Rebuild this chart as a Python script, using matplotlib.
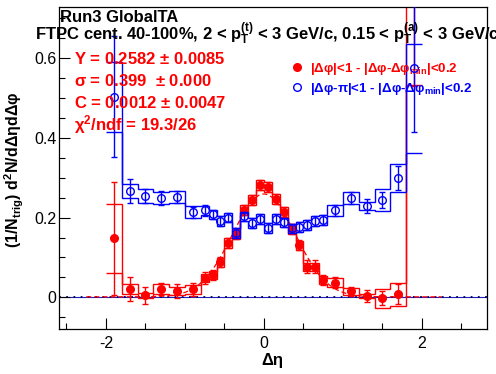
import numpy as np
import matplotlib
matplotlib.use("Agg")
import matplotlib.pyplot as plt
from matplotlib.lines import Line2D
from matplotlib.ticker import MultipleLocator

plt.rcParams["font.family"] = ["Liberation Sans", "DejaVu Sans"]
plt.rcParams["mathtext.fontset"] = "custom"
plt.rcParams["mathtext.rm"] = "Liberation Sans:bold"
plt.rcParams["mathtext.it"] = "Liberation Sans:bold"
plt.rcParams["mathtext.bf"] = "Liberation Sans:bold"
plt.rcParams["axes.unicode_minus"] = False

'''Data read off the reference'''
eta_edges = [-2.0, -1.8, -1.6, -1.4, -1.2, -1.0, -0.8, -0.7, -0.6, -0.5, -0.4,
             -0.3, -0.2, -0.1, 0.0, 0.1, 0.2, 0.3, 0.4, 0.5, 0.6, 0.7, 0.8,
             1.0, 1.2, 1.4, 1.6, 1.8, 2.0]

# near side |dphi|<1
near_y = [0.148, 0.021, 0.005, 0.021, 0.016, 0.020, 0.048, 0.056, 0.088, 0.136,
          0.159, 0.219, 0.244, 0.282, 0.277, 0.247, 0.214, 0.171, 0.131, 0.077,
          0.077, 0.043, 0.037, 0.015, 0.003, -0.002, 0.008, 0.85]
near_stat = [0.141, 0.031, 0.021, 0.016, 0.018, 0.016, 0.015, 0.013, 0.013, 0.012,
             0.012, 0.012, 0.012, 0.012, 0.012, 0.012, 0.012, 0.012, 0.012, 0.017,
             0.017, 0.012, 0.013, 0.011, 0.016, 0.018, 0.025, 0.32]
near_sys_dn = [0.087, 0.0125, 0.006, 0.0125, 0.010, 0.011, 0.010, 0.010, 0.011, 0.012,
               0.012, 0.013, 0.013, 0.013, 0.013, 0.013, 0.012, 0.012, 0.011, 0.010,
               0.010, 0.010, 0.012, 0.009, 0.005, 0.024, 0.029, 0.317]
near_sys_up = [0.087, 0.0125, 0.006, 0.0125, 0.010, 0.011, 0.010, 0.010, 0.011, 0.012,
               0.012, 0.013, 0.013, 0.013, 0.013, 0.013, 0.012, 0.012, 0.011, 0.010,
               0.010, 0.010, 0.012, 0.009, 0.005, 0.024, 0.029, 0.40]

# away side |dphi-pi|<1
far_y = [0.504, 0.267, 0.254, 0.249, 0.251, 0.213, 0.218, 0.208, 0.192, 0.200,
         0.161, 0.203, 0.187, 0.196, 0.174, 0.196, 0.188, 0.173, 0.177, 0.181,
         0.192, 0.194, 0.218, 0.249, 0.229, 0.244, 0.300, 0.576]
far_stat = [0.153, 0.031, 0.018, 0.017, 0.015, 0.013, 0.013, 0.012, 0.012, 0.012,
            0.012, 0.012, 0.012, 0.012, 0.012, 0.012, 0.012, 0.012, 0.012, 0.012,
            0.012, 0.012, 0.013, 0.015, 0.017, 0.020, 0.030, 0.161]
far_sys_dn = [0.090, 0.018, 0.017, 0.016, 0.015, 0.015, 0.012, 0.012, 0.012, 0.012,
              0.012, 0.012, 0.012, 0.012, 0.012, 0.012, 0.012, 0.012, 0.012, 0.012,
              0.012, 0.012, 0.014, 0.016, 0.011, 0.027, 0.035, 0.213]
far_sys_up = [0.086, 0.018, 0.017, 0.016, 0.015, 0.015, 0.012, 0.012, 0.012, 0.012,
              0.012, 0.012, 0.012, 0.012, 0.012, 0.012, 0.012, 0.012, 0.012, 0.012,
              0.012, 0.012, 0.014, 0.016, 0.011, 0.027, 0.035, 0.060]

# gaussian + constant fit of the near side
fit_Y, fit_Y_err = 0.2582, 0.0085
fit_sigma, fit_sigma_err = 0.399, 0.000
fit_C, fit_C_err = 0.0012, 0.0047
fit_chi2, fit_ndf = 19.3, 26
fit_range = (-2.25, 2.25)

edges = np.array(eta_edges)
centers = 0.5 * (edges[1:] + edges[:-1])
near_y = np.array(near_y)
far_y = np.array(far_y)

red = "#ff0000"
blue = "#0000ff"

W, H = 496, 374
fig = plt.figure(figsize=(W / 100, H / 100), dpi=100)
ax = fig.add_axes([59.3 / W, 1 - 329.3 / H, (486.7 - 59.3) / W, (329.3 - 7.3) / H])

ax.axhline(0, color="#2020c0", lw=0.8, zorder=1)
ax.axhline(0, color="#000060", lw=1.3, ls=(0, (1, 3)), zorder=1.1)

'''Near side: systematic steps, fit, points'''
ax.stairs(near_y - np.array(near_sys_dn), edges, baseline=None, color=red, lw=1.0, zorder=2)
ax.stairs(near_y + np.array(near_sys_up), edges, baseline=None, color=red, lw=1.0, zorder=2)

xf = np.linspace(fit_range[0], fit_range[1], 400)
yf = fit_Y / (np.sqrt(2 * np.pi) * fit_sigma) * np.exp(-xf**2 / (2 * fit_sigma**2)) + fit_C
ax.plot(xf, yf, color=red, lw=0.9, ls=(0, (4, 2.5)), zorder=2.5)

ax.errorbar(centers, near_y, yerr=near_stat, fmt="o", color=red, ms=5.5,
            elinewidth=1.0, capsize=2.2, capthick=1.0, zorder=3)

'''Away side'''
ax.stairs(far_y - np.array(far_sys_dn), edges, baseline=None, color=blue, lw=1.0, zorder=4)
ax.stairs(far_y + np.array(far_sys_up), edges, baseline=None, color=blue, lw=1.0, zorder=4)
ax.errorbar(centers, far_y, yerr=far_stat, fmt="o", color=blue, mfc="none", ms=5.5,
            mew=1.0, elinewidth=1.0, capsize=2.2, capthick=1.0, zorder=5)

ax.set_xlim(-2.59, 2.82)
ax.set_ylim(-0.0803, 0.728)
ax.set_xticks([-2, 0, 2])
ax.set_yticks([0, 0.2, 0.4, 0.6])
ax.set_yticklabels(["0", "0.2", "0.4", "0.6"])
ax.xaxis.set_minor_locator(MultipleLocator(0.5))
ax.yaxis.set_minor_locator(MultipleLocator(0.05))
ax.tick_params(which="both", direction="in", top=False, right=False, width=0.8)
ax.tick_params(which="major", length=8, labelsize=11.5)
ax.tick_params(which="minor", length=4)
ax.tick_params(axis="y", pad=2)
ax.tick_params(axis="x", pad=5)
for s in ax.spines.values():
    s.set_linewidth(0.9)

'''Texts'''
def px(x, y):
    return x / W, 1 - y / H

fig.text(*px(60.5, 22), "Run3 GlobalTA", fontsize=12, fontweight="bold", va="baseline")
fig.text(*px(35, 39.5),
         r"FTPC cent. 40-100%, 2 < p$_{T}^{(t)}$ < 3 GeV/c, 0.15 < p$_{T}^{(a)}$ < 3 GeV/c",
         fontsize=12, fontweight="bold", va="baseline")

fit_lines = ["Y = %.4f $\\pm$ %.4f" % (fit_Y, fit_Y_err),
             "σ = %.3f  $\\pm$ %.3f" % (fit_sigma, fit_sigma_err),
             "C = %.4f $\\pm$ %.4f" % (fit_C, fit_C_err),
             "χ$^{2}$/ndf = %.1f/%d" % (fit_chi2, fit_ndf)]
for i, t in enumerate(fit_lines):
    fig.text(*px(74, 63.5 + 22.4 * i), t, fontsize=12, fontweight="bold",
             color=red, va="baseline")

handles = [Line2D([], [], ls="none", marker="o", color=red, ms=5.5),
           Line2D([], [], ls="none", marker="o", color=blue, mfc="none", ms=5.5, mew=1.0)]
labels = [r"|Δφ|<1 - |Δφ-Δφ$_{\mathrm{min}}$|<0.2",
          r"|Δφ-π|<1 - |Δφ-Δφ$_{\mathrm{min}}$|<0.2"]
leg = ax.legend(handles, labels, loc="upper left", bbox_to_anchor=px(284, 54),
                bbox_transform=fig.transFigure, frameon=False, borderpad=0,
                handlelength=1.0, handletextpad=0.45, labelspacing=0.3,
                prop={"size": 9.5, "weight": "bold"}, labelcolor="markeredgecolor")

fig.text(*px(272, 361), "Δη", fontsize=12, fontweight="bold", ha="center", va="center")
fig.text(*px(14, 170), r"(1/N$_{trig}$) d$^{2}$N/dΔηdΔφ", fontsize=11.5,
         fontweight="bold", rotation=90, ha="center", va="center")

fig.savefig("out.png", dpi=100)
